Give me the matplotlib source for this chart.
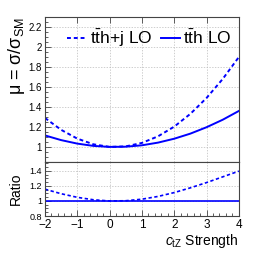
import matplotlib
matplotlib.use("Agg")
import matplotlib.pyplot as plt
import numpy as np
from matplotlib.ticker import MultipleLocator, FormatStrFormatter

plt.rcParams['font.family'] = ['Liberation Sans', 'DejaVu Sans']
plt.rcParams['mathtext.fontset'] = 'custom'
plt.rcParams['mathtext.rm'] = 'Liberation Sans'
plt.rcParams['mathtext.it'] = 'Liberation Sans:italic'
plt.rcParams['mathtext.sf'] = 'Liberation Sans'

# значения
ctz = [-2, -1.5, -1, -0.5, 0, 0.5, 1, 1.5, 2, 2.5, 3, 3.5, 4]
mu_tthj = [1.290, 1.171, 1.083, 1.026, 1.000, 1.005, 1.040, 1.106, 1.203, 1.331, 1.490, 1.680, 1.900]
mu_tth = [1.115, 1.068, 1.033, 1.010, 1.000, 1.002, 1.016, 1.043, 1.082, 1.133, 1.197, 1.272, 1.360]

ratio_tthj = np.array(mu_tthj) / np.array(mu_tth)
ratio_tth = np.array(mu_tth) / np.array(mu_tth)

BLUE = '#0000ff'
SPINE = '#444444'

fig = plt.figure(figsize=(2.66, 2.59), dpi=100)
ax = fig.add_axes([0.169, 0.375, 0.729, 0.559])
rax = fig.add_axes([0.169, 0.166, 0.729, 0.209], sharex=ax)

ax.plot(ctz, mu_tthj, color=BLUE, ls=(0, (2, 1.5)), lw=1.4, label=r'$\mathrm{t\bar{t}h}$+j LO')
ax.plot(ctz, mu_tth, color=BLUE, ls='-', lw=1.4, label=r'$\mathrm{t\bar{t}h}$ LO')
rax.plot(ctz, ratio_tthj, color=BLUE, ls=(0, (2, 1.5)), lw=1.2)
rax.plot(ctz, ratio_tth, color=BLUE, ls='-', lw=1.2)

ax.set_xlim(-2, 4)
ax.set_ylim(0.85, 2.3)
rax.set_ylim(0.8, 1.52)

for a in (ax, rax):
    a.grid(True, ls=(0, (2, 2)), color='#bbbbbb', lw=0.5)
    for s in a.spines.values():
        s.set_color(SPINE)
        s.set_linewidth(0.8)
    a.xaxis.set_major_locator(MultipleLocator(1))
    a.xaxis.set_minor_locator(MultipleLocator(0.2))
    a.yaxis.set_major_formatter(FormatStrFormatter('%g'))
    a.tick_params(which='both', direction='in', color=SPINE, width=0.6)
    a.tick_params(which='major', length=4)
    a.tick_params(which='minor', length=2)

ax.yaxis.set_major_locator(MultipleLocator(0.2))
ax.yaxis.set_minor_locator(MultipleLocator(0.05))
ax.tick_params(axis='x', which='both', top=True, bottom=False, labelbottom=False)
ax.tick_params(axis='x', which='minor', top=False)
ax.tick_params(axis='y', labelsize=7, pad=2)

rax.yaxis.set_major_locator(MultipleLocator(0.2))
rax.yaxis.set_minor_locator(MultipleLocator(0.05))
rax.tick_params(axis='y', labelsize=6.5, pad=2)
rax.tick_params(axis='x', labelsize=8.5, pad=2)
rax.set_xticks([-2, -1, 0, 1, 2, 3, 4])
rax.set_xticklabels(['\u22122', '\u22121', '0', '1', '2', '3', '4'])

ax.set_ylabel('\u03bc = \u03c3/\u03c3$_{\\mathrm{SM}}$', fontsize=13, loc='top', labelpad=1)
rax.set_ylabel('Ratio', fontsize=10, labelpad=5)
rax.set_xlabel(r'$c_{\mathrm{tZ}}$ Strength', fontsize=10, loc='right', labelpad=1)

ax.legend(loc='upper left', ncol=2, frameon=False, fontsize=12.5, handlelength=1.1,
          handletextpad=0.2, columnspacing=0.5, borderaxespad=0.2, bbox_to_anchor=(0.06, 1.0))

fig.savefig('out.png', dpi=100)
